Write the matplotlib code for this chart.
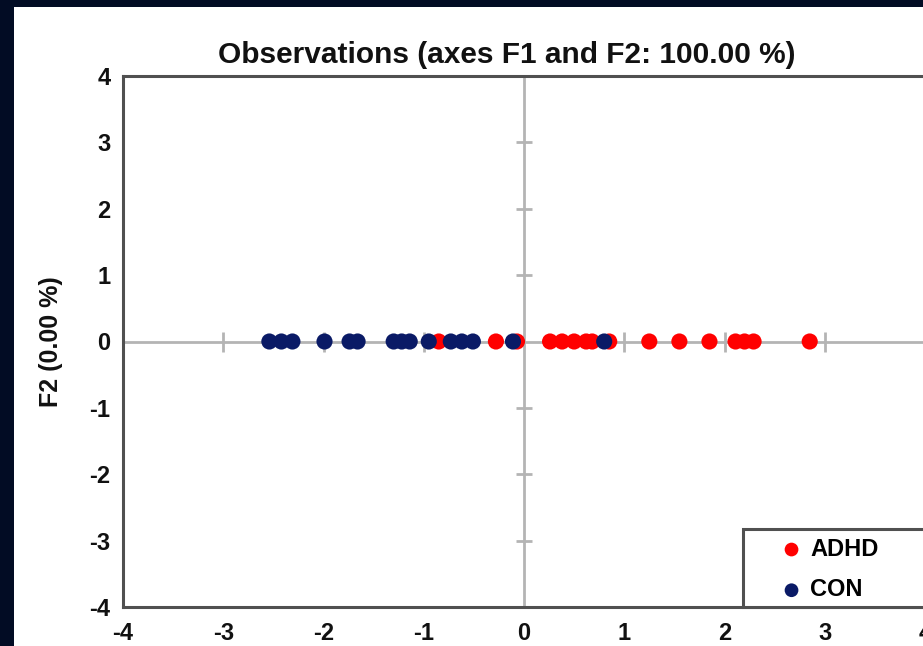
import numpy as np
import matplotlib.pyplot as plt
from matplotlib.patches import Rectangle

# F1 scores per observation (F2 is 0 for everything)
adhd_f1 = [-0.85, -0.28, -0.07, 0.26, 0.38, 0.50, 0.62, 0.68, 0.85,
           1.25, 1.55, 1.85, 2.11, 2.20, 2.29, 2.85]
con_f1 = [-2.54, -2.42, -2.31, -1.99, -1.74, -1.66, -1.30, -1.22, -1.14,
          -0.95, -0.73, -0.62, -0.51, -0.11, 0.80]
groups = ["ADHD", "CON"]
colors = ["#ff0000", "#0a1a66"]
ticks = [-4, -3, -2, -1, 0, 1, 2, 3, 4]

W, H = 923, 646
plt.rcParams['font.family'] = ['Liberation Sans', 'DejaVu Sans']
plt.rcParams['axes.unicode_minus'] = False
fig = plt.figure(figsize=(W / 100, H / 100), dpi=100, facecolor="#020c24")
# white panel behind everything
fig.patches.append(Rectangle((14 / W, 0), 1, 1 - 7 / H, transform=fig.transFigure,
                             facecolor="white", edgecolor="none", zorder=-10))

ax = fig.add_axes([123 / W, 1 - 607 / H, (925 - 123) / W, (607 - 76) / H])
ax.set_xlim(-4, 4)
ax.set_ylim(-4, 4)
ax.set_xticks(ticks)
ax.set_yticks(ticks)
ax.tick_params(length=0, labelsize=17)
ax.tick_params(axis="x", pad=11)
ax.tick_params(axis="y", pad=9)
for lab in ax.get_xticklabels() + ax.get_yticklabels():
    lab.set_fontweight("bold")
    lab.set_color("#111111")
for s in ax.spines.values():
    s.set_color("#505050")
    s.set_linewidth(2.2)

# origin axes with their small ticks
ax.axhline(0, color="#b4b4b4", lw=2, zorder=1)
ax.axvline(0, color="#b4b4b4", lw=2, zorder=1)
inner = [t for t in ticks if t not in (0, -4, 4)]
ax.plot(inner, np.zeros(len(inner)), ls="none", marker="|", ms=15, mew=2,
        color="#b4b4b4", zorder=1)
ax.plot(np.zeros(len(inner)), inner, ls="none", marker="_", ms=12, mew=2,
        color="#b4b4b4", zorder=1)

ax.scatter(adhd_f1, np.zeros(len(adhd_f1)), s=135, color=colors[0],
           edgecolors="none", zorder=3, label=groups[0])
ax.scatter(con_f1, np.zeros(len(con_f1)), s=135, color=colors[1],
           edgecolors="none", zorder=4, label=groups[1])

fig.text(507 / W, 1 - 55 / H, "Observations (axes F1 and F2: 100.00 %)",
         fontsize=21.5, fontweight="bold", color="#111111", ha="center", va="center")
ax.set_ylabel("F2 (0.00 %)", fontsize=18, fontweight="bold", color="#111111",
              labelpad=19)

# legend box runs off the right edge
ax.add_patch(Rectangle((743 / W, 1 - 607 / H), 220 / W, 78 / H,
                       transform=fig.transFigure, clip_on=False,
                       facecolor="white", edgecolor="#505050", lw=2.2, zorder=5))
leg = ax.legend(loc="upper left", bbox_to_anchor=(775 / W, 1 - 533 / H),
                bbox_transform=fig.transFigure, markerscale=0.85,
                handletextpad=0.3, handlelength=1.0, labelspacing=0.75,
                borderpad=0.2, borderaxespad=0, frameon=False,
                prop={"weight": "bold", "size": 17})
leg.set_zorder(6)

fig.savefig("out.png", dpi=100, facecolor=fig.get_facecolor())
